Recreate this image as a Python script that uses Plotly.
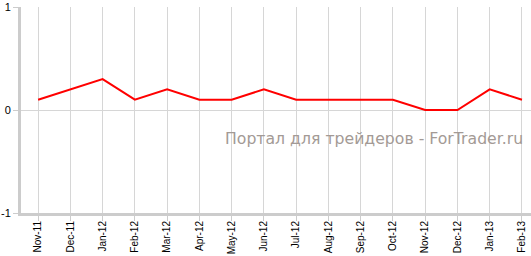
import plotly.graph_objects as go

months = ["Nov-11", "Dec-11", "Jan-12", "Feb-12", "Mar-12", "Apr-12", "May-12", "Jun-12",
          "Jul-12", "Aug-12", "Sep-12", "Oct-12", "Nov-12", "Dec-12", "Jan-13", "Feb-13"]
values = [0.1, 0.2, 0.3, 0.1, 0.2, 0.1, 0.1, 0.2, 0.1, 0.1, 0.1, 0.1, 0.0, 0.0, 0.2, 0.1]
y_ticks = [-1, 0, 1]
watermark = "Портал для трейдеров - ForTrader.ru"

fig = go.Figure()
fig.add_trace(go.Scatter(x=list(range(len(months))), y=values, mode="lines",
                         line=dict(color="#ff0000", width=2), hoverinfo="skip"))

fig.update_layout(
    width=531, height=256,
    margin=dict(l=21, r=0, t=7, b=43),
    paper_bgcolor="white", plot_bgcolor="white",
    showlegend=False,
    font=dict(family="Liberation Sans, Arial, sans-serif", color="#000000"),
    xaxis=dict(
        tickmode="array", tickvals=list(range(len(months))), ticktext=months,
        tickangle=-90, tickfont=dict(size=10), ticklabelstandoff=-4,
        range=[-0.53, 15.28], automargin=False,
        showgrid=True, gridcolor="#d6d6d6", gridwidth=1,
        showline=True, linecolor="#cccccc", linewidth=3,
        ticks="outside", ticklen=5, tickcolor="#cccccc",
        zeroline=False, fixedrange=True,
    ),
    yaxis=dict(
        tickmode="array", tickvals=y_ticks, ticktext=[str(v) for v in y_ticks],
        range=[-1, 1], tickfont=dict(size=11), automargin=False,
        showgrid=True, gridcolor="#d6d6d6", gridwidth=1,
        showline=True, linecolor="#cccccc", linewidth=3,
        ticks="outside", ticklen=5, tickcolor="#cccccc",
        zeroline=True, zerolinecolor="#d6d6d6", zerolinewidth=1,
        fixedrange=True,
    ),
    annotations=[dict(
        text=watermark, xref="paper", yref="paper", x=0.988, y=0.36,
        xanchor="right", yanchor="middle", showarrow=False,
        font=dict(family="DejaVu Sans, Verdana, sans-serif", size=15.7, color="#a39a95"),
    )],
)

fig.write_html("out.html")
